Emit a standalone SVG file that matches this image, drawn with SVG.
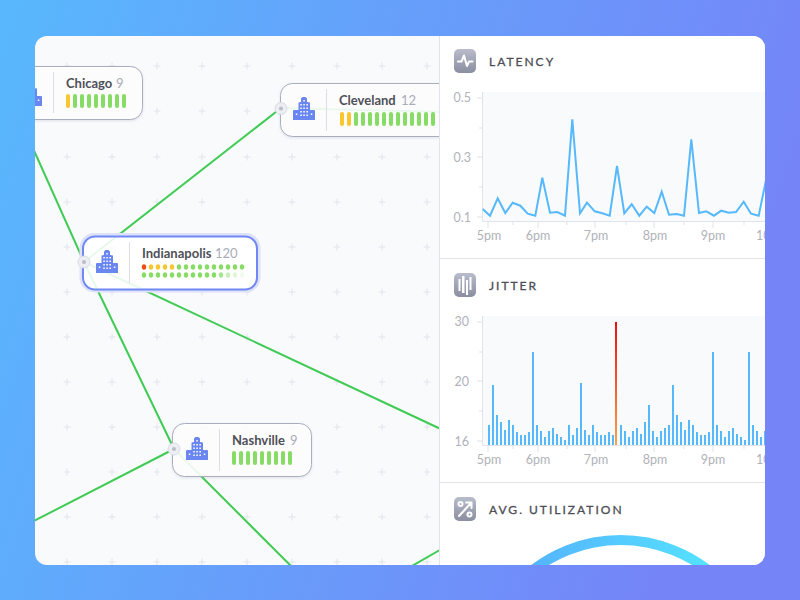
<svg xmlns="http://www.w3.org/2000/svg" xmlns:xlink="http://www.w3.org/1999/xlink" width="800" height="600" viewBox="0 0 800 600">
<style>
text{font-family:Lato,"Liberation Sans",sans-serif}
.name{font-size:13px;font-weight:700;fill:#4f5058}
.cnt{font-size:13px;fill:#a9adb8}
.title{font-size:12px;letter-spacing:2px;fill:#4c4d55;stroke:#4c4d55;stroke-width:.3}
.ax{font-size:12.5px;fill:#b0b2ba}
.axm{text-anchor:middle}
.aye{text-anchor:end}
.node{fill:#fff;fill-opacity:.88;stroke:#a9aebf;stroke-width:1}
.div{stroke:#dcdee5;stroke-width:1}
.link{stroke:#3fcb54;stroke-width:2;fill:none}
.port{fill:#eceef3;stroke:#d9dce4;stroke-width:1}
.pin{fill:#b9bdc9}
.plus{stroke:#e1e4eb;stroke-width:1;fill:none}
.tick{stroke:#e1e3e9;stroke-width:1;fill:none}
.g{fill:#86dc64}
.y{fill:#fbc52d}
.r{fill:#f04b10}
.glyph{stroke:#fff;stroke-width:2;fill:none;stroke-linecap:round;stroke-linejoin:round}
</style>
<defs>
<linearGradient id="bg" x1="0" y1="0" x2="1" y2="0.25"><stop offset="0" stop-color="#58b8fd"/><stop offset="1" stop-color="#7585f8"/></linearGradient>
<linearGradient id="ic" x1="0" y1="0" x2="0" y2="1"><stop offset="0" stop-color="#b9bccb"/><stop offset="1" stop-color="#8b8ea0"/></linearGradient>
<linearGradient id="rd" x1="0" y1="0" x2="0" y2="1"><stop offset="0" stop-color="#ee0d0d"/><stop offset="1" stop-color="#ffa24a"/></linearGradient>
<linearGradient id="arc" gradientUnits="userSpaceOnUse" x1="531" y1="0" x2="710" y2="0"><stop offset="0" stop-color="#54b4ff"/><stop offset="1" stop-color="#55e2ff"/></linearGradient>
<clipPath id="card"><rect x="35" y="36" width="730" height="529" rx="12"/></clipPath>
<filter id="sh" x="-20%" y="-20%" width="140%" height="150%"><feDropShadow dx="0" dy="1" stdDeviation="1.5" flood-color="#8b90a8" flood-opacity=".25"/></filter>
<path id="p" class="plus" d="M-3.500 0H3.500M0 -3.500V3.500"/>
<symbol id="bld" viewBox="0 0 22 23" width="22" height="23" overflow="visible">
<path fill="#6a86f1" d="M0 13.500L1 13H5.500V5.500L8 5V1.500L9.500 0H12.500L14 1.500V5L17 5.500V13H21L22 13.500V23H0Z"/>
<path fill="#fff" d="M10.300 3h1.500v1.500h-1.500zM7.300 7h1.500v1.500H7.300zM10.300 7h1.500v1.500h-1.500zM13.400 7h1.500v1.500h-1.500zM7.300 10.500h1.500V12H7.300zM10.300 10.500h1.500V12h-1.500zM13.400 10.500h1.500V12h-1.500zM7.300 14h1.500v1.500H7.300zM10.300 14h1.500v1.500h-1.500zM13.400 14h1.500v1.500h-1.500zM2.800 16.500h1.500V18H2.800zM7.300 17.500h1.500V19H7.300zM10.300 17.500h1.500V19h-1.500zM13.400 17.500h1.500V19h-1.500zM17.800 16.500h1.500V18h-1.500z"/>
</symbol>
<g id="bar"><rect x="0" y="0" width="4" height="14" rx="2"/></g>
<ellipse id="dot" cx="0" cy="0" rx="2.200" ry="2.700"/>
</defs>
<rect width="800" height="600" fill="url(#bg)"/>
<g clip-path="url(#card)">
<rect x="35" y="36" width="730" height="529" fill="#f9fafc"/>
<g id="grid">
<use href="#p" x="67" y="66"/><use href="#p" x="112" y="66"/><use href="#p" x="157" y="66"/><use href="#p" x="202" y="66"/><use href="#p" x="247" y="66"/><use href="#p" x="292" y="66"/><use href="#p" x="337" y="66"/><use href="#p" x="382" y="66"/><use href="#p" x="427" y="66"/>
<use href="#p" x="67" y="111"/><use href="#p" x="112" y="111"/><use href="#p" x="157" y="111"/><use href="#p" x="202" y="111"/><use href="#p" x="247" y="111"/><use href="#p" x="292" y="111"/><use href="#p" x="337" y="111"/><use href="#p" x="382" y="111"/><use href="#p" x="427" y="111"/>
<use href="#p" x="67" y="157"/><use href="#p" x="112" y="157"/><use href="#p" x="157" y="157"/><use href="#p" x="202" y="157"/><use href="#p" x="247" y="157"/><use href="#p" x="292" y="157"/><use href="#p" x="337" y="157"/><use href="#p" x="382" y="157"/><use href="#p" x="427" y="157"/>
<use href="#p" x="67" y="202"/><use href="#p" x="112" y="202"/><use href="#p" x="157" y="202"/><use href="#p" x="202" y="202"/><use href="#p" x="247" y="202"/><use href="#p" x="292" y="202"/><use href="#p" x="337" y="202"/><use href="#p" x="382" y="202"/><use href="#p" x="427" y="202"/>
<use href="#p" x="67" y="247"/><use href="#p" x="112" y="247"/><use href="#p" x="157" y="247"/><use href="#p" x="202" y="247"/><use href="#p" x="247" y="247"/><use href="#p" x="292" y="247"/><use href="#p" x="337" y="247"/><use href="#p" x="382" y="247"/><use href="#p" x="427" y="247"/>
<use href="#p" x="67" y="292"/><use href="#p" x="112" y="292"/><use href="#p" x="157" y="292"/><use href="#p" x="202" y="292"/><use href="#p" x="247" y="292"/><use href="#p" x="292" y="292"/><use href="#p" x="337" y="292"/><use href="#p" x="382" y="292"/><use href="#p" x="427" y="292"/>
<use href="#p" x="67" y="337"/><use href="#p" x="112" y="337"/><use href="#p" x="157" y="337"/><use href="#p" x="202" y="337"/><use href="#p" x="247" y="337"/><use href="#p" x="292" y="337"/><use href="#p" x="337" y="337"/><use href="#p" x="382" y="337"/><use href="#p" x="427" y="337"/>
<use href="#p" x="67" y="382"/><use href="#p" x="112" y="382"/><use href="#p" x="157" y="382"/><use href="#p" x="202" y="382"/><use href="#p" x="247" y="382"/><use href="#p" x="292" y="382"/><use href="#p" x="337" y="382"/><use href="#p" x="382" y="382"/><use href="#p" x="427" y="382"/>
<use href="#p" x="67" y="427"/><use href="#p" x="112" y="427"/><use href="#p" x="157" y="427"/><use href="#p" x="202" y="427"/><use href="#p" x="247" y="427"/><use href="#p" x="292" y="427"/><use href="#p" x="337" y="427"/><use href="#p" x="382" y="427"/><use href="#p" x="427" y="427"/>
<use href="#p" x="67" y="472"/><use href="#p" x="112" y="472"/><use href="#p" x="157" y="472"/><use href="#p" x="202" y="472"/><use href="#p" x="247" y="472"/><use href="#p" x="292" y="472"/><use href="#p" x="337" y="472"/><use href="#p" x="382" y="472"/><use href="#p" x="427" y="472"/>
<use href="#p" x="67" y="517"/><use href="#p" x="112" y="517"/><use href="#p" x="157" y="517"/><use href="#p" x="202" y="517"/><use href="#p" x="247" y="517"/><use href="#p" x="292" y="517"/><use href="#p" x="337" y="517"/><use href="#p" x="382" y="517"/><use href="#p" x="427" y="517"/>
<use href="#p" x="67" y="562"/><use href="#p" x="112" y="562"/><use href="#p" x="157" y="562"/><use href="#p" x="202" y="562"/><use href="#p" x="247" y="562"/><use href="#p" x="292" y="562"/><use href="#p" x="337" y="562"/><use href="#p" x="382" y="562"/><use href="#p" x="427" y="562"/>
</g>
<g id="connectors">
<path class="link" d="M32 146L84 262"/>
<path class="link" d="M84 262L174 449"/>
<path class="link" d="M84 262L281 108"/>
<path class="link" d="M84 262L445 431"/>
<path class="link" d="M174 449L30 523"/>
<path class="link" d="M174 449L295 570"/>
<path class="link" d="M281 108L445 112"/>
<path class="link" d="M405 570L445 547"/>
</g>
<g id="node-chicago">
<rect class="node" x="7" y="66.500" width="135.500" height="53" rx="12" filter="url(#sh)"/>
<use href="#bld" x="20" y="83"/>
<line class="div" x1="53.500" y1="72" x2="53.500" y2="113"/>
<text class="name" x="66" y="88">Chicago</text><text class="cnt" x="116" y="88">9</text>
<use href="#bar" class="y" x="66" y="94"/><use href="#bar" class="g" x="73" y="94"/><use href="#bar" class="g" x="80" y="94"/><use href="#bar" class="g" x="87" y="94"/><use href="#bar" class="g" x="94" y="94"/><use href="#bar" class="g" x="101" y="94"/><use href="#bar" class="g" x="108" y="94"/><use href="#bar" class="g" x="115" y="94"/><use href="#bar" class="g" x="122" y="94"/>
</g>
<g id="node-cleveland">
<rect class="node" x="280.500" y="83.500" width="190" height="53" rx="12" filter="url(#sh)"/>
<use href="#bld" x="293" y="97"/>
<line class="div" x1="326.500" y1="89" x2="326.500" y2="131"/>
<text class="name" x="339" y="105">Cleveland</text><text class="cnt" x="401" y="105">12</text>
<use href="#bar" class="y" x="340" y="112"/><use href="#bar" class="y" x="347" y="112"/><use href="#bar" class="g" x="354" y="112"/><use href="#bar" class="g" x="361" y="112"/><use href="#bar" class="g" x="368" y="112"/><use href="#bar" class="g" x="375" y="112"/><use href="#bar" class="g" x="382" y="112"/><use href="#bar" class="g" x="389" y="112"/><use href="#bar" class="g" x="396" y="112"/><use href="#bar" class="g" x="403" y="112"/><use href="#bar" class="g" x="410" y="112"/><use href="#bar" class="g" x="417" y="112"/><use href="#bar" class="g" x="424" y="112"/><use href="#bar" class="g" x="431" y="112"/>
<circle class="port" cx="281" cy="108.500" r="6"/><circle class="pin" cx="281" cy="108.500" r="2"/>
</g>
<g id="node-indianapolis">
<rect x="81.500" y="235" width="177" height="55.500" rx="13" fill="none" stroke="#dde2f8" stroke-width="4"/>
<rect x="83" y="236.500" width="174" height="53" rx="12" fill="#fff" fill-opacity=".88" stroke="#7088f5" stroke-width="2"/>
<use href="#bld" x="96" y="250"/>
<line class="div" x1="129.500" y1="242" x2="129.500" y2="283"/>
<text class="name" x="142" y="257.500">Indianapolis</text><text class="cnt" x="215" y="257.500">120</text>
<use href="#dot" class="r" x="144" y="267"/><use href="#dot" class="y" x="151" y="267"/><use href="#dot" class="y" x="158" y="267"/><use href="#dot" class="y" x="165" y="267"/><use href="#dot" class="y" x="172" y="267"/><use href="#dot" class="g" x="179" y="267"/><use href="#dot" class="g" x="186" y="267"/><use href="#dot" class="g" x="193" y="267"/><use href="#dot" class="g" x="200" y="267"/><use href="#dot" class="g" x="207" y="267"/><use href="#dot" class="g" x="214" y="267"/><use href="#dot" class="g" x="221" y="267"/><use href="#dot" class="g" x="228" y="267"/><use href="#dot" class="g" x="235" y="267"/><use href="#dot" class="g" x="242" y="267"/>
<use href="#dot" class="g" x="144" y="275"/><use href="#dot" class="g" x="151" y="275"/><use href="#dot" class="g" x="158" y="275"/><use href="#dot" class="g" x="165" y="275"/><use href="#dot" class="g" x="172" y="275"/><use href="#dot" class="g" x="179" y="275"/><use href="#dot" class="g" x="186" y="275"/><use href="#dot" class="g" x="193" y="275"/><use href="#dot" class="g" x="200" y="275"/><use href="#dot" class="g" x="207" y="275"/><use href="#dot" class="g" x="214" y="275"/><use href="#dot" class="g" opacity=".75" x="221" y="275"/><use href="#dot" class="g" opacity=".45" x="228" y="275"/><use href="#dot" class="g" opacity=".25" x="235" y="275"/><use href="#dot" class="g" opacity=".12" x="242" y="275"/>
<circle class="port" cx="84" cy="262" r="6"/><circle class="pin" cx="84" cy="262" r="2"/>
</g>
<g id="node-nashville">
<rect class="node" x="172.500" y="423.500" width="139" height="53" rx="12" filter="url(#sh)"/>
<use href="#bld" x="186" y="437"/>
<line class="div" x1="219.500" y1="429" x2="219.500" y2="471"/>
<text class="name" x="232" y="445">Nashville</text><text class="cnt" x="290" y="445">9</text>
<use href="#bar" class="g" x="232" y="451"/><use href="#bar" class="g" x="239" y="451"/><use href="#bar" class="g" x="246" y="451"/><use href="#bar" class="g" x="253" y="451"/><use href="#bar" class="g" x="260" y="451"/><use href="#bar" class="g" x="267" y="451"/><use href="#bar" class="g" x="274" y="451"/><use href="#bar" class="g" x="281" y="451"/><use href="#bar" class="g" x="288" y="451"/>
<circle class="port" cx="174" cy="449" r="6"/><circle class="pin" cx="174" cy="449" r="2"/>
</g>
<rect x="439" y="36" width="326" height="529" fill="#fff"/>
<path d="M439.500 36V565M440 258.500H765M440 482.500H765" stroke="#e2e4ea" stroke-width="1" fill="none"/>
<rect x="454" y="49" width="22" height="24" rx="5" fill="url(#ic)"/>
<path class="glyph" d="M458 61.500H461.500L464 55.500L467 66L469 61.500H472.500"/>
<text class="title" x="489" y="66">LATENCY</text>
<rect x="483" y="92" width="282" height="129" fill="#f9fafc"/>
<path class="tick" d="M482.500 92V221.500H765M477 98H482M479 128H482M477 157H482M479 187H482M477 217H482M488 221V228M513 221V225M538 221V228M567 221V225M595 221V228M626 221V225M654 221V228M684 221V225M713 221V228M744 221V225"/>
<text class="ax aye" x="471" y="102">0.5</text><text class="ax aye" x="471" y="162">0.3</text><text class="ax aye" x="471" y="222">0.1</text>
<text class="ax axm" x="489" y="240">5pm</text><text class="ax axm" x="538" y="240">6pm</text><text class="ax axm" x="596" y="240">7pm</text><text class="ax axm" x="655" y="240">8pm</text><text class="ax axm" x="713" y="240">9pm</text><text class="ax" x="756" y="240">10pm</text>
<polyline fill="none" stroke="#56b9fd" stroke-width="2" stroke-linejoin="miter" points="482.700,209 490,215.700 497.700,198.300 505.300,213 512.700,202.700 520.300,205.700 527.700,213.700 535.300,215.700 542.300,177.700 550,212.700 557.300,212 565,215.700 572.300,119.300 580,213.300 587,202.700 594.700,211.300 602.300,213.300 609.700,215.700 617,166 624.300,213.300 631.700,204.300 639.300,215.700 646.700,206.700 654.300,213 661.700,191.700 669,214.700 676.700,214 684,215.700 691.300,139.300 699,213 706.300,211.300 714,215.700 721.300,210.700 728.700,212.700 736,212 743.700,201.700 751,213.700 758.700,215.700 766,180"/>
<rect x="454" y="273" width="22" height="24" rx="5" fill="url(#ic)"/>
<path d="M458.500 279h2v12h-2zM462 276h2.500v17H462zM466 280h2v15h-2zM469.500 277h2v13h-2z" fill="#fff"/>
<text class="title" x="489" y="290">JITTER</text>
<rect x="483" y="316" width="282" height="129" fill="#f9fafc"/>
<path class="tick" d="M482.500 316V445.500H765M477 322H482M479 352H482M477 381H482M479 411H482M477 441H482M488 445V452M513 445V449M538 445V452M567 445V449M595 445V452M626 445V449M654 445V452M684 445V449M713 445V452M744 445V449"/>
<text class="ax aye" x="469" y="326">30</text><text class="ax aye" x="469" y="386">20</text><text class="ax aye" x="469" y="446">16</text>
<text class="ax axm" x="489" y="464">5pm</text><text class="ax axm" x="538" y="464">6pm</text><text class="ax axm" x="596" y="464">7pm</text><text class="ax axm" x="655" y="464">8pm</text><text class="ax axm" x="713" y="464">9pm</text><text class="ax" x="756" y="464">10pm</text>
<path fill="#56b9fd" d="M488 445V425h2V445zM492 445V385h2V445zM496 445V415h2V445zM500 445V422h2V445zM504 445V430h2V445zM508 445V420h2V445zM512 445V425h2V445zM516 445V432h2V445zM520 445V435h2V445zM524 445V435h2V445zM528 445V432h2V445zM532 445V352h2V445zM536 445V425h2V445zM540 445V431h2V445zM544 445V437h2V445zM548 445V431h2V445zM552 445V428h2V445zM556 445V434h2V445zM560 445V437h2V445zM564 445V440h2V445zM568 445V425h2V445zM572 445V435h2V445zM576 445V428h2V445zM580 445V383h2V445zM584 445V430h2V445zM588 445V435h2V445zM592 445V425h2V445zM596 445V432h2V445zM600 445V435h2V445zM604 445V435h2V445zM608 445V432h2V445zM612 445V435h2V445zM620 445V425h2V445zM624 445V431h2V445zM628 445V437h2V445zM632 445V431h2V445zM636 445V428h2V445zM640 445V434h2V445zM644 445V422h2V445zM648 445V405h2V445zM652 445V431h2V445zM656 445V437h2V445zM660 445V431h2V445zM664 445V428h2V445zM668 445V425h2V445zM672 445V385h2V445zM676 445V415h2V445zM680 445V422h2V445zM684 445V430h2V445zM688 445V420h2V445zM692 445V425h2V445zM696 445V432h2V445zM700 445V435h2V445zM704 445V435h2V445zM708 445V432h2V445zM712 445V352h2V445zM716 445V425h2V445zM720 445V431h2V445zM724 445V437h2V445zM728 445V431h2V445zM732 445V428h2V445zM736 445V434h2V445zM740 445V437h2V445zM744 445V440h2V445zM748 445V352h2V445zM752 445V425h2V445zM756 445V431h2V445zM760 445V437h2V445zM764 445V431h2V445z"/>
<rect x="615" y="322" width="2" height="123" fill="url(#rd)"/>
<rect x="454" y="497" width="22" height="24" rx="5" fill="url(#ic)"/>
<circle class="glyph" cx="460.500" cy="504" r="2"/><circle class="glyph" cx="469.500" cy="514.500" r="2"/>
<path class="glyph" d="M459 516L471 503M466 502.500H471.500V508"/>
<text class="title" x="489" y="514">AVG. UTILIZATION</text>
<circle cx="620.500" cy="683" r="143" fill="none" stroke="url(#arc)" stroke-width="10"/>
</g>
</svg>
